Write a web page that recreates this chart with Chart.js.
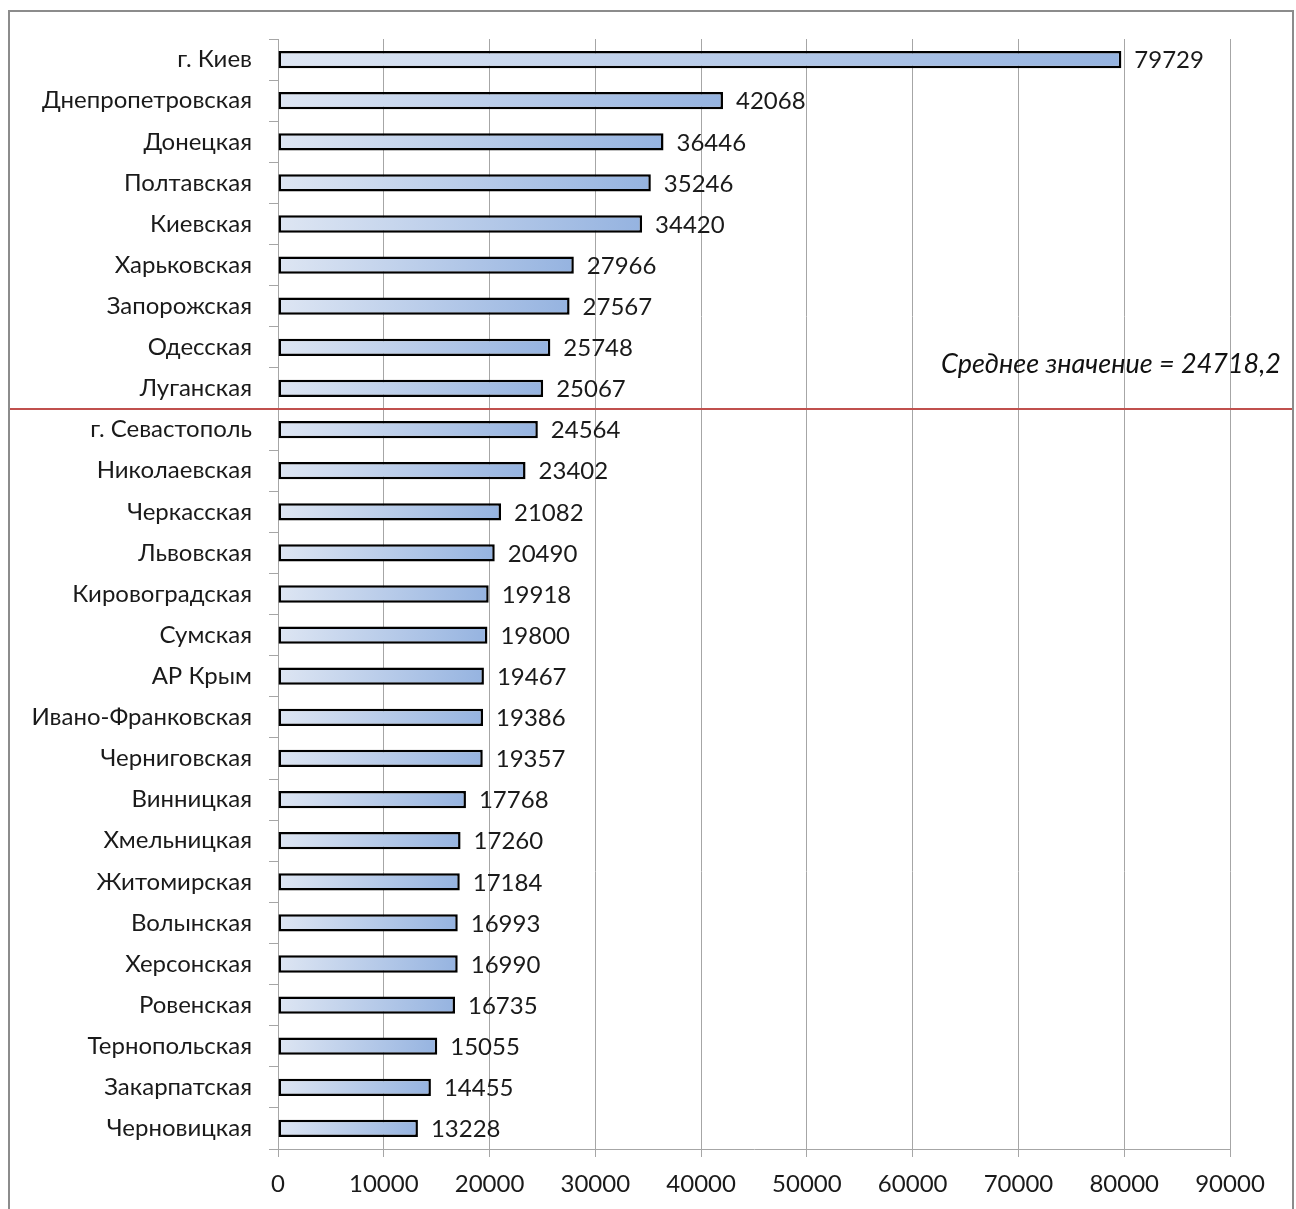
<!DOCTYPE html>
<html>
<head>
<meta charset="utf-8">
<script src="https://cdn.jsdelivr.net/npm/chart.js@4"></script>
<style>
    body { margin: 0; background: #fff; }
    #frame {
        position: absolute; left: 8px; top: 10px;
        width: 1282px; height: 1210px;
        border: 2px solid #8c8c8c; border-bottom: none;
        overflow: hidden;
    }
    #chart { display: block; }
</style>
</head>
<body>
<div id="frame"><canvas id="chart" width="1282" height="1199"></canvas></div>
<script>
const oblasti = [
    'г. Киев', 'Днепропетровская', 'Донецкая', 'Полтавская', 'Киевская', 'Харьковская',
    'Запорожская', 'Одесская', 'Луганская', 'г. Севастополь', 'Николаевская', 'Черкасская',
    'Львовская', 'Кировоградская', 'Сумская', 'АР Крым', 'Ивано-Франковская', 'Черниговская',
    'Винницкая', 'Хмельницкая', 'Житомирская', 'Волынская', 'Херсонская', 'Ровенская',
    'Тернопольская', 'Закарпатская', 'Черновицкая'
];
const werte = [
    79729, 42068, 36446, 35246, 34420, 27966,
    27567, 25748, 25067, 24564, 23402, 21082,
    20490, 19918, 19800, 19467, 19386, 19357,
    17768, 17260, 17184, 16993, 16990, 16735,
    15055, 14455, 13228
];
const xTicks = [0, 10000, 20000, 30000, 40000, 50000, 60000, 70000, 80000, 90000];

const durchschnitt = werte.reduce((a, b) => a + b, 0) / werte.length;
const durchschnittText = 'Среднее значение = ' + durchschnitt.toFixed(1).replace('.', ',');

const fontName = 'Lato, "Open Sans", sans-serif';

function barGradient(ctx) {
    const chart = ctx.chart;
    if (!chart.chartArea || ctx.dataIndex === undefined) return '#b8cbea';
    const x = chart.scales.x;
    const y = chart.scales.y;
    const x0 = x.getPixelForValue(0);
    const x1 = x.getPixelForValue(werte[ctx.dataIndex]);
    const yc = y.getPixelForValue(ctx.dataIndex);
    const g = chart.ctx.createLinearGradient(x0, yc - 8, x1, yc + 8);
    g.addColorStop(0, '#dee6f3');
    g.addColorStop(1, '#95b3e0');
    return g;
}

const valueLabels = {
    id: 'valueLabels',
    afterDatasetsDraw(chart) {
        const ctx = chart.ctx;
        const meta = chart.getDatasetMeta(0);
        ctx.save();
        ctx.font = '24px ' + fontName;
        ctx.fillStyle = '#1a1a1a';
        ctx.textAlign = 'left';
        ctx.textBaseline = 'middle';
        meta.data.forEach((bar, i) => {
            ctx.fillText(String(werte[i]), bar.x + 13, bar.y + 1);
        });
        ctx.restore();
    }
};

const meanLine = {
    id: 'meanLine',
    afterDraw(chart) {
        const idx = werte.findIndex(v => v < durchschnitt);
        if (idx < 0) return;
        const yPix = chart.scales.y.getPixelForValue(idx - 0.5);
        const ctx = chart.ctx;
        ctx.save();
        ctx.strokeStyle = '#c0504d';
        ctx.lineWidth = 2;
        ctx.beginPath();
        ctx.moveTo(0, yPix);
        ctx.lineTo(chart.width, yPix);
        ctx.stroke();
        ctx.font = 'italic 27px ' + fontName;
        ctx.fillStyle = '#111';
        ctx.textAlign = 'right';
        ctx.textBaseline = 'middle';
        ctx.fillText(durchschnittText, chart.width - 11, yPix - 45);
        ctx.restore();
    }
};

new Chart(document.getElementById('chart'), {
    type: 'bar',
    data: {
        labels: oblasti,
        datasets: [{
            data: werte,
            backgroundColor: barGradient,
            borderColor: '#000',
            borderWidth: 2.5,
            borderSkipped: false,
            barPercentage: 0.42,
            categoryPercentage: 1
        }]
    },
    options: {
        indexAxis: 'y',
        responsive: false,
        animation: false,
        layout: { padding: { top: 27, right: 62, bottom: 0, left: 0 } },
        plugins: {
            legend: { display: false },
            tooltip: { enabled: false }
        },
        scales: {
            x: {
                min: 0,
                max: 90000,
                afterBuildTicks(scale) {
                    scale.ticks = xTicks.map(v => ({ value: v }));
                },
                afterFit(scale) {
                    scale.height = 62;
                    scale.paddingLeft = 0;
                    scale.paddingRight = 0;
                },
                grid: { color: '#a6a6a6', lineWidth: 1, tickLength: 8 },
                border: { color: '#a6a6a6' },
                ticks: {
                    color: '#1a1a1a',
                    font: { family: fontName, size: 24 },
                    padding: 13,
                    maxRotation: 0,
                    callback: v => String(v)
                }
            },
            y: {
                afterFit(scale) {
                    scale.width = 268;
                    scale.paddingTop = 0;
                    scale.paddingBottom = 0;
                },
                grid: { display: true, drawOnChartArea: false, offset: true, color: '#a6a6a6', tickLength: 9 },
                border: { color: '#a6a6a6' },
                ticks: {
                    color: '#1a1a1a',
                    font: { family: fontName, size: 24 },
                    padding: 17,
                    autoSkip: false
                }
            }
        }
    },
    plugins: [valueLabels, meanLine]
});
</script>
</body>
</html>
